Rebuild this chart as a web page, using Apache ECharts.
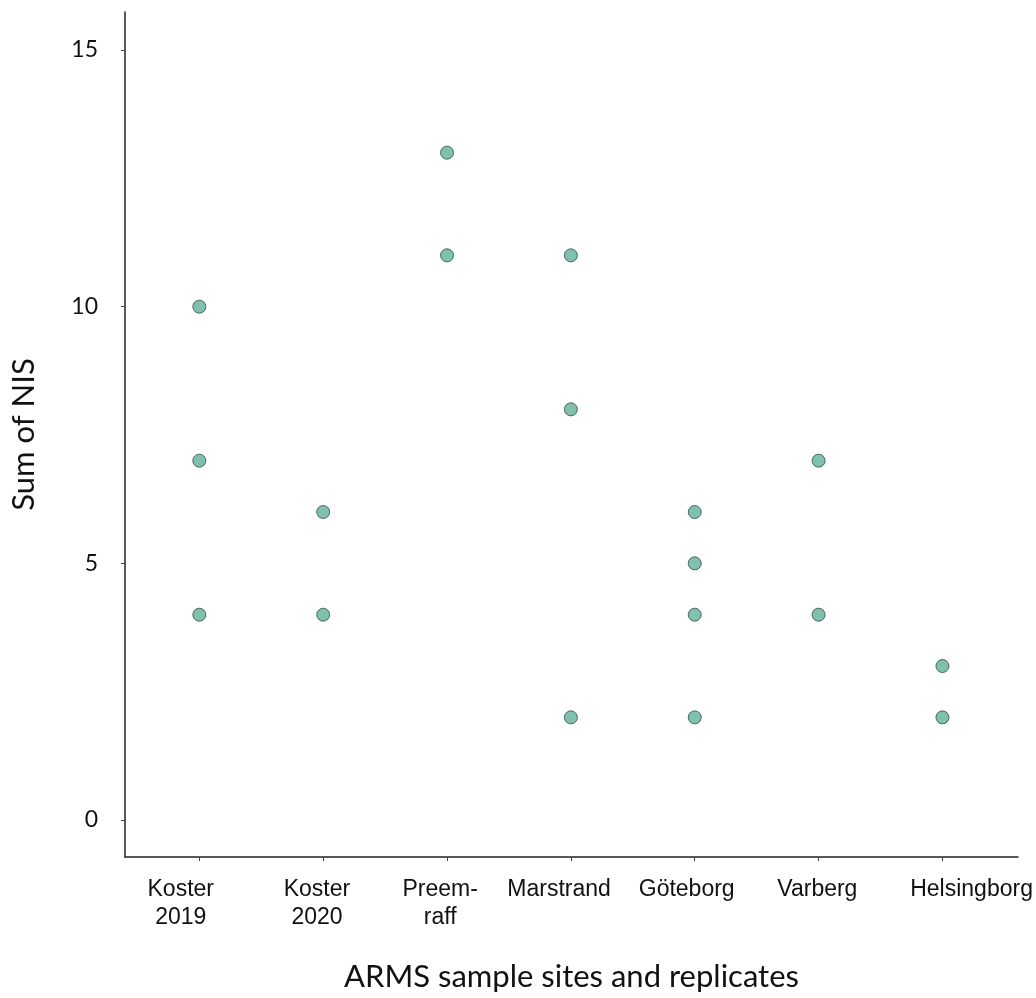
<!DOCTYPE html>
<html>
<head>
<meta charset="utf-8">
<script src="https://cdn.jsdelivr.net/npm/echarts@6/dist/echarts.min.js"></script>
<style>
  html, body { margin: 0; padding: 0; background: #ffffff; }
  #chart { width: 1036px; height: 998px; }
</style>
</head>
<body>
<div id="chart"></div>
<script>
// Sample sites (x positions 0..6) and number of non-indigenous species per replicate
const sites = ['Koster\n2019', 'Koster\n2020', 'Preem-\nraff', 'Marstrand', 'Göteborg', 'Varberg', 'Helsingborg'];
const koster2019 = [10, 7, 4];
const koster2020 = [6, 4];
const preemraff = [13, 11];
const marstrand = [11, 8, 2];
const goteborg = [6, 5, 4, 2];
const varberg = [7, 4];
const helsingborg = [3, 2];
const yTicks = [0, 5, 10, 15];

// Site labels sit slightly off their ticks (offset in axis units)
const labelShift = [-0.15, -0.05, -0.055, -0.095, -0.065, -0.01, 0.235];

const X_MIN = -0.6, X_MAX = 6.61;
const siteTicks = sites.map((_, i) => i);
const labelAt = siteTicks.map((v, i) => v + labelShift[i]);

const perSite = [koster2019, koster2020, preemraff, marstrand, goteborg, varberg, helsingborg];
const points = [];
perSite.forEach((vals, i) => vals.forEach(v => points.push([i, v])));

const chart = echarts.init(document.getElementById('chart'), null, { renderer: 'canvas' });
chart.setOption({
  backgroundColor: '#ffffff',
  animation: false,
  grid: { left: 121, top: 12, right: 18, bottom: 141, containLabel: false },
  xAxis: {
    type: 'value',
    min: X_MIN,
    max: X_MAX,
    splitLine: { show: false },
    axisLine: { show: true, onZero: false, lineStyle: { color: '#222', width: 1.5 } },
    axisTick: { show: true, customValues: siteTicks, length: 4, lineStyle: { color: '#444', width: 1 } },
    axisLabel: {
      show: true,
      customValues: labelAt,
      hideOverlap: false,
      showMinLabel: true,
      showMaxLabel: true,
      formatter: v => sites[Math.round(v)],
      color: '#111',
      fontFamily: 'Liberation Sans, Arial, sans-serif',
      fontSize: 23,
      lineHeight: 28,
      margin: 19,
      verticalAlign: 'top'
    },
    name: 'ARMS sample sites and replicates',
    nameLocation: 'middle',
    nameGap: 104,
    nameTextStyle: { color: '#111', fontFamily: 'Lato, Open Sans, sans-serif', fontSize: 31 }
  },
  yAxis: {
    type: 'value',
    min: -0.72,
    max: 15.74,
    splitLine: { show: false },
    axisLine: { show: true, onZero: false, lineStyle: { color: '#222', width: 1.5 } },
    axisTick: { show: true, customValues: yTicks, length: 4, lineStyle: { color: '#444', width: 1 } },
    axisLabel: {
      show: true,
      customValues: yTicks,
      color: '#111',
      fontFamily: 'Lato, Open Sans, sans-serif',
      fontSize: 23,
      margin: 27
    },
    name: 'Sum of NIS',
    nameLocation: 'middle',
    nameGap: 86,
    nameRotate: 90,
    nameTextStyle: { color: '#111', fontFamily: 'Lato, Open Sans, sans-serif', fontSize: 31 }
  },
  series: [{
    type: 'scatter',
    data: points,
    symbol: 'circle',
    symbolSize: 13,
    itemStyle: { color: '#5fb09a', borderColor: '#2e4a44', borderWidth: 1 }
  }]
});
</script>
</body>
</html>
